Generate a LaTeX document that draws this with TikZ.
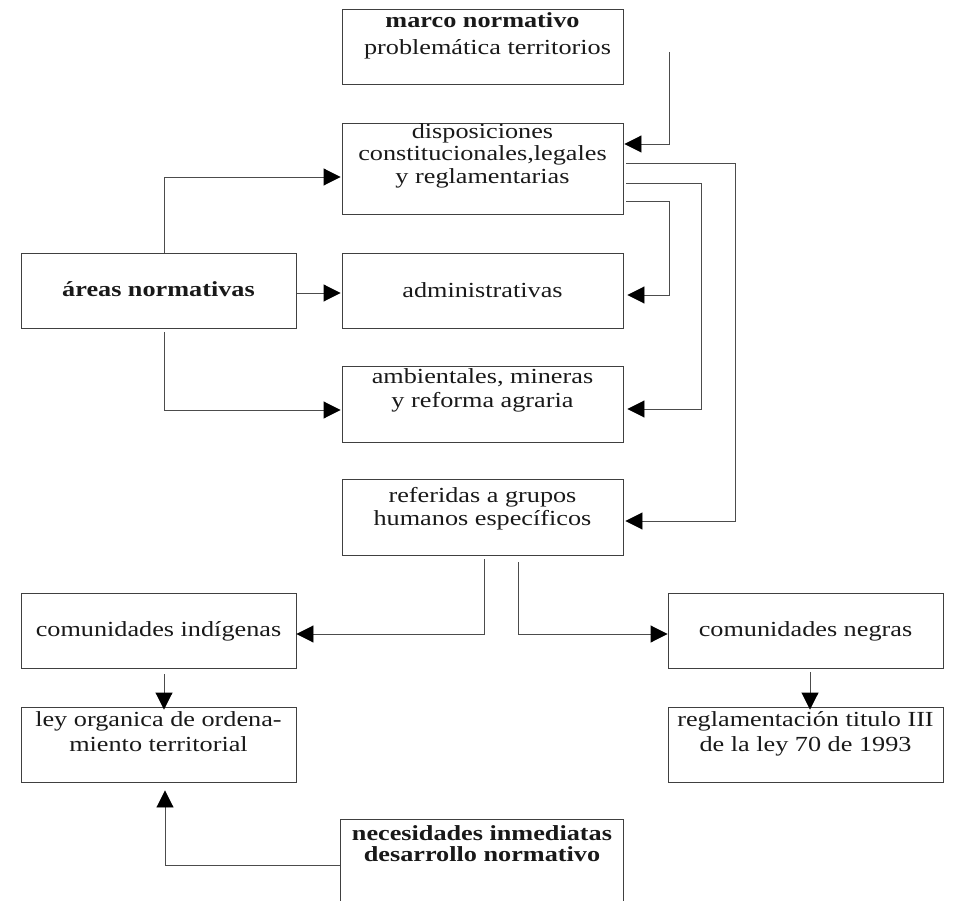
\documentclass[tikz,border=0pt]{standalone}
\usepackage{fontspec}
\setmainfont{Liberation Serif}[FakeStretch=1.22]
\usetikzlibrary{arrows.meta,calc}
\tikzset{
  boxnode/.style={draw=black!75, line width=0.9pt, inner sep=0pt, minimum width=281pt, minimum height=75pt},
  nbox/.style={boxnode, minimum width=275pt},
  txt/.style={font=\fontsize{21.5}{23.5}\selectfont, align=center, inner sep=0pt, anchor=base, text=black!90},
  conn/.style={draw=black!70, line width=0.9pt},
  arr/.style={conn, -{Triangle[length=17pt,width=17pt,fill=black,color=black]}},
}
\begin{document}
\begin{tikzpicture}[x=1pt,y=-1pt]
\useasboundingbox (0,0) rectangle (956,901);
% boxes
\node[boxnode] (marco) at (482.5,46.5) {};
\node[boxnode, minimum height=91pt] (disp) at (482.5,168.5) {};
\node[nbox] (areas) at (158.5,290.5) {};
\node[boxnode] (admin) at (482.5,290.5) {};
\node[boxnode, minimum height=76pt] (amb) at (482.5,404) {};
\node[boxnode, minimum height=76pt] (ref) at (482.5,517) {};
\node[nbox] (indig) at (158.5,630.5) {};
\node[nbox] (negras) at (805.5,630.5) {};
\node[nbox] (ley) at (158.5,744.5) {};
\node[nbox] (regl) at (805.5,744.5) {};
\node[inner sep=0pt, minimum width=282pt, minimum height=81pt] (nec) at (482,860.5) {};
\draw[conn, draw=black!75] (nec.south west) -- (nec.north west) -- (nec.north east) -- (nec.south east);
% texts (base anchor = baseline of the last line)
\node[txt] (tmarco) at (482.5,54.3) {\textbf{marco normativo}\\[3pt]\hspace*{10pt}problemática territorios};
\node[txt] (tdisp) at (482.5,183.5) {disposiciones\\[-1pt]constitucionales,legales\\[-1pt]y reglamentarias};
\node[txt] (tareas) at (158.5,297) {\textbf{áreas normativas}};
\node[txt] (tadmin) at (482.5,297.5) {administrativas};
\node[txt] (tamb) at (482.5,407) {ambientales, mineras\\y reforma agraria};
\node[txt] (tref) at (482.5,525.5) {referidas a grupos\\humanos específicos};
\node[txt] (tindig) at (158.5,636.7) {comunidades indígenas};
\node[txt] (tnegras) at (805.5,636.7) {comunidades negras};
\node[txt] (tley) at (158.5,751.7) {ley organica de ordena-\\[1.5pt]miento territorial};
\node[txt] (tregl) at (805.5,751.2) {reglamentación titulo III\\[1pt]de la ley 70 de 1993};
\node[txt] (tnec) at (482,861.5) {\textbf{necesidades inmediatas}\\[-2pt]\textbf{desarrollo normativo}};
% connectors
\coordinate (m1) at (669,52);
\draw[arr] (m1) |- ($(disp.east)+(1,-24.5)$);
\draw[arr] ($(disp.east)+(3,-5.5)$) -| ($(ref.east)+(112,4)$) -- ($(ref.east)+(2,4)$);
\draw[arr] ($(disp.east)+(3,14.5)$) -| ($(amb.east)+(78,5)$) -- ($(amb.east)+(4,5)$);
\draw[arr] ($(disp.east)+(3,32.5)$) -| ($(admin.east)+(46,4.5)$) -- ($(admin.east)+(4,4.5)$);
\draw[arr] ($(areas.north)+(5.5,0)$) |- ($(disp.west)+(-1,8.5)$);
\draw[arr] ($(areas.east)+(1,2.5)$) -- ($(admin.west)+(-1,2.5)$);
\draw[arr] ($(areas.south)+(5.5,4)$) |- ($(amb.west)+(-1,6)$);
\draw[arr] ($(ref.south)+(1.5,4)$) |- ($(indig.east)+(0,3.5)$);
\draw[arr] ($(ref.south)+(35.5,7)$) |- ($(negras.west)+(0,3.5)$);
\draw[arr] ($(indig.south)+(5.5,6)$) -- ($(ley.north)+(5.5,3)$);
\draw[arr] ($(negras.south)+(4.5,4)$) -- ($(regl.north)+(4.5,3)$);
\draw[arr] ($(nec.west)+(-1,4.5)$) -| ($(ley.south)+(6.5,8)$);
\end{tikzpicture}
\end{document}
